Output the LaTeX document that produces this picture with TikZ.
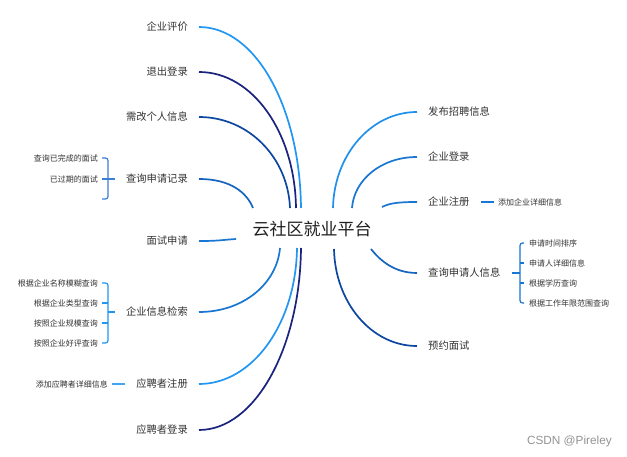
\documentclass[tikz,border=0pt]{standalone}
\usepackage{fontspec}
\setmainfont{Noto Sans CJK SC}
\newfontfamily\wmfont{Liberation Sans}
\definecolor{lb}{HTML}{2196F3}
\definecolor{nv}{HTML}{1A237E}
\definecolor{db}{HTML}{0D47A1}
\definecolor{mb}{HTML}{1565C0}
\definecolor{bb}{HTML}{1976D2}
\definecolor{br1}{HTML}{3D7FD6}
\definecolor{txt}{HTML}{333333}
\begin{document}
\begin{tikzpicture}[x=1pt,y=-1pt,
  mainL/.style={font=\fontsize{10.3}{12}\selectfont, text=txt, inner xsep=11pt, inner ysep=2pt, anchor=east},
  mainR/.style={font=\fontsize{10.3}{12}\selectfont, text=txt, inner xsep=11pt, inner ysep=2pt, anchor=west},
  subL/.style={font=\fontsize{8}{10}\selectfont, text=txt, inner sep=0pt, anchor=east},
  subR/.style={font=\fontsize{8}{10}\selectfont, text=txt, inner sep=0pt, anchor=west},
  brk/.style={line width=1.2pt, rounded corners=2.5pt},
  cur/.style={line width=1.7pt}]
\useasboundingbox (0,0) rectangle (627,457);
\fill[white] (0,0) rectangle (627,457);

% centre
\node[font=\fontsize{17}{20}\selectfont, text=black!88, inner sep=0pt] (c) at (312,229) {云社区就业平台};

% left main nodes
\node[mainL] (l1) at (199,27)  {企业评价};
\node[mainL] (l2) at (199,72)  {退出登录};
\node[mainL] (l3) at (199,117) {需改个人信息};
\node[mainL] (l4) at (199,179) {查询申请记录};
\node[mainL] (l5) at (199,241) {面试申请};
\node[mainL] (l6) at (199,312) {企业信息检索};
\node[mainL] (l7) at (199,384) {应聘者注册};
\node[mainL] (l8) at (199,430) {应聘者登录};

% right main nodes
\node[mainR] (r1) at (417,112) {发布招聘信息};
\node[mainR] (r2) at (417,157) {企业登录};
\node[mainR] (r3) at (417,202) {企业注册};
\node[mainR] (r4) at (417,273) {查询申请人信息};
\node[mainR] (r5) at (417,346) {预约面试};

% connector ends near the centre
\coordinate (e1) at (301,208);
\coordinate (e2) at (296,208);
\coordinate (e3) at (290,208);
\coordinate (e4) at (253,208);
\coordinate (e5) at (236,239);
\coordinate (e6) at (280,248);
\coordinate (e7) at (297,248);
\coordinate (e8) at (301,248);
\coordinate (f1) at (333,208);
\coordinate (f2) at (352,208);
\coordinate (f3) at (382,207);
\coordinate (f4) at (371,249);
\coordinate (f5) at (334,249);

% left curves
\draw[cur, lb] (l1.east) .. controls +(57,0) and +(-1,-100) .. (e1);
\draw[cur, nv] (l2.east) .. controls +(54,0) and +(-1,-75) .. (e2);
\draw[cur, db] (l3.east) .. controls +(50,0) and +(-2,-50) .. (e3);
\draw[cur, mb] (l4.east) .. controls +(32,0) and +(-6,-15) .. (e4);
\draw[cur, bb] (l5.east) .. controls +(20,0) and +(-15,1) .. (e5);
\draw[cur, bb] (l6.east) .. controls +(45,0) and +(-3,35) .. (e6);
\draw[cur, lb] (l7.east) .. controls +(54,0) and +(-1,75) .. (e7);
\draw[cur, nv] (l8.east) .. controls +(56,0) and +(-1,100) .. (e8);

% right curves
\draw[cur, lb!80!bb] (r1.west) .. controls +(-46,0) and +(1,-53) .. (f1);
\draw[cur, bb] (r2.west) .. controls +(-36,0) and +(2,-28) .. (f2);
\draw[cur, bb] (r3.west) .. controls +(-18,0) and +(8,-4) .. (f3);
\draw[cur, mb] (r4.west) .. controls +(-24,0) and +(8,10) .. (f4);
\draw[cur, db] (r5.west) .. controls +(-46,0) and +(1,53) .. (f5);

% sub items: 查询申请记录
\node[subL] (s41) at (98,158) {查询已完成的面试};
\node[subL] (s42) at (98,179) {已过期的面试};
\draw[brk, br1] ([xshift=4pt]s41.east) -- (108,158) -- (108,199) -- (102,199);
\draw[brk, br1] (l4.west) -- ([xshift=4pt]s42.east);

% sub items: 企业信息检索
\node[subL] (s61) at (98,283) {根据企业名称模糊查询};
\node[subL] (s62) at (98,303) {根据企业类型查询};
\node[subL] (s63) at (98,323) {按照企业规模查询};
\node[subL] (s64) at (98,343) {按照企业好评查询};
\draw[brk, lb] ([xshift=4pt]s61.east) -- (108,283) -- (108,343) -- ([xshift=4pt]s64.east);
\draw[brk, lb] (108,303) -- ([xshift=4pt]s62.east);
\draw[brk, lb] (108,323) -- ([xshift=4pt]s63.east);
\draw[brk, lb] (l6.west) -- (108,312);

% sub item: 应聘者注册
\node[subL] (s71) at (108,384) {添加应聘者详细信息};
\draw[brk, lb!85] (l7.west) -- ([xshift=4pt]s71.east);

% sub item: 企业注册
\node[subR] (s31) at (498,202) {添加企业详细信息};
\draw[brk, bb] (r3.east) -- ([xshift=-4pt]s31.west);

% sub items: 查询申请人信息
\node[subR] (t1) at (529,243) {申请时间排序};
\node[subR] (t2) at (529,263) {申请人详细信息};
\node[subR] (t3) at (529,283) {根据学历查询};
\node[subR] (t4) at (529,303) {根据工作年限范围查询};
\draw[brk, bb] ([xshift=-5pt]t1.west) -- (520,243) -- (520,303) -- ([xshift=-5pt]t4.west);
\draw[brk, bb] (520,263) -- ([xshift=-5pt]t2.west);
\draw[brk, bb] (520,283) -- ([xshift=-5pt]t3.west);
\draw[brk, bb] (r4.east) -- (520,273);

% watermark
\node[font=\wmfont\fontsize{11.8}{14}\selectfont, text=black!42, anchor=east, inner sep=0pt] (wm) at (612,441) {CSDN @Pireley};
\end{tikzpicture}
\end{document}
